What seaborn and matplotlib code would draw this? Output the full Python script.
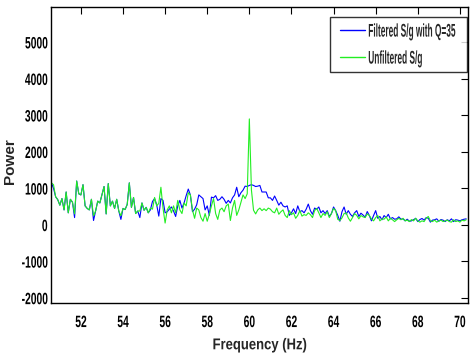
import numpy as np
import pandas as pd
import matplotlib
matplotlib.use('Agg')
import matplotlib.pyplot as plt
import matplotlib.patheffects as pe
from matplotlib.transforms import Affine2D
import seaborn as sns

# frequency grid, 0.1 Hz steps from 50.6 to 70.3 Hz
freq = np.round(np.arange(506, 704) / 10.0, 1)

filtered = [
    # 50.6 - 55.2
    1150, 1000, 770, 690, 540, 720, 410, 900, 330, 700, 620, 200, 1200, 850, 820, 1100,
    520, 450, 410, 700, 120, 380, 650, 600, 820, 1050, 300, 1130, 520, 650, 450, 700,
    380, 150, 450, 420, 560, 1150, 480, 750, 310, 380, 200, 600, 400, 480, 330,
    # 55.3 - 59.9
    410, 640, 720, 550, 240, 720, 670, 330, 360, 430, 490, 380, 230, 520, 670, 460,
    600, 800, 980, 820, 360, 430, 550, 820, 770, 720, 410, 520, 260, 760, 740, 800,
    670, 700, 770, 700, 590, 670, 600, 740, 820, 1030, 770, 880, 950, 1060, 1050,
    # 60.0 - 65.1
    1080, 1100, 1080, 1050, 1060, 1080, 900, 900, 900, 740, 740, 670, 790, 670, 540, 620,
    520, 490, 520, 260, 330, 440, 310, 520, 360, 390, 330, 430, 570, 390, 290, 460,
    430, 490, 330, 390, 310, 390, 230, 310, 490, 390, 260, 100, 360, 490, 290, 390,
    290, 230, 330, 390,
    # 65.2 - 70.3
    230, 320, 270, 210, 365, 255, 110, 255, 390, 180, 230, 140, 255, 200, 290, 165,
    200, 155, 165, 220, 155, 165, 110, 155, 100, 110, 140, 180, 90, 145, 175, 130,
    200, 180, 75, 130, 140, 165, 100, 145, 130, 90, 140, 110, 165, 90, 140, 130,
    110, 140, 155, 165,
]

unfiltered = [
    # 50.6 - 55.2
    1150, 1100, 770, 690, 540, 720, 410, 900, 330, 700, 620, 300, 1200, 850, 820, 1100,
    520, 450, 410, 700, 250, 380, 650, 600, 820, 1050, 300, 1130, 520, 650, 450, 700,
    380, 250, 450, 420, 560, 1150, 480, 750, 310, 380, 380, 600, 400, 480, 330,
    # 55.3 - 59.9
    460, 430, 750, 520, 590, 1030, 460, 50, 410, 520, 330, 520, 330, 670, 410, 310,
    600, 520, 880, 820, 410, 180, 460, 410, 200, 100, 310, 100, 290, 520, 720, 310,
    150, 410, 460, 360, 520, 570, 120, 460, 670, 260, 410, 620, 820, 720, 850,
    # 60.0 - 65.1
    2900, 950, 400, 300, 410, 460, 390, 440, 390, 460, 430, 360, 330, 460, 290, 360,
    410, 260, 200, 390, 280, 330, 180, 260, 390, 240, 280, 260, 330, 280, 200, 390,
    450, 330, 200, 310, 260, 360, 200, 310, 450, 390, 150, 120, 190, 310, 330, 190,
    100, 200, 310, 260,
    # 65.2 - 70.3
    165, 255, 220, 200, 300, 255, 165, 110, 200, 255, 110, 165, 155, 220, 110, 180,
    140, 90, 140, 180, 140, 180, 110, 130, 90, 145, 110, 180, 110, 75, 110, 90,
    180, 230, 110, 90, 130, 75, 110, 130, 90, 110, 130, 90, 75, 140, 90, 110,
    75, 130, 110, 140,
]

labels = ['Filtered S/g with Q=35', 'Unfiltered S/g']
colors = ['#0000ff', '#22ee22']
xticks = [52, 54, 56, 58, 60, 62, 64, 66, 68, 70]
yticks = [-2000, -1000, 0, 1000, 2000, 3000, 4000, 5000]


class Tall(pe.AbstractPathEffect):
    """stretch glyphs vertically around the middle of the cap height,
    the reference uses a squashed (narrow) bold font"""
    def __init__(self, sy):
        super().__init__()
        self.sy = sy

    def draw_path(self, renderer, gc, tpath, affine, rgbFace=None):
        yc = 35.8  # half the cap height in text-path units
        t = Affine2D().translate(0, -yc).scale(1, self.sy).translate(0, yc)
        renderer.draw_path(gc, tpath, t + affine, rgbFace)


sns.set_style('white')
plt.rcParams['font.family'] = ['Liberation Sans', 'DejaVu Sans']
plt.rcParams['font.weight'] = 'bold'
plt.rcParams['axes.unicode_minus'] = False

fig = plt.figure(figsize=(4.7, 3.56), dpi=100)
ax = fig.add_axes([0.1085, 0.149, 0.887, 0.831])

sns.lineplot(x=freq, y=filtered, color=colors[0], linewidth=0.8, label=labels[0], ax=ax)
sns.lineplot(x=freq, y=unfiltered, color=colors[1], linewidth=0.8, label=labels[1], ax=ax)

ax.set_xlim(50.58, 70.38)
ax.set_ylim(-2137, 5960)
ax.set_xticks(xticks)
ax.set_yticks(yticks)
ax.tick_params(direction='in', length=5, width=0.8, top=True, right=True,
               labelsize=7.4, colors='black')
ax.tick_params(axis='x', pad=10)
ax.tick_params(axis='y', pad=2.5)
for lab in ax.get_xticklabels() + ax.get_yticklabels():
    lab.set_fontweight('bold')
    lab.set_path_effects([Tall(1.6)])
for sp in ax.spines.values():
    sp.set_color('black')
    sp.set_linewidth(1.0)

ax.set_xlabel('Frequency (Hz)', fontsize=9.4, fontweight='bold', labelpad=9)
ax.xaxis.label.set_path_effects([Tall(1.2)])
ax.set_ylabel('Power', fontsize=11, fontweight='bold')
ax.yaxis.set_label_coords(-0.081, 0.48)

leg = ax.legend(loc='upper right', bbox_to_anchor=(0.9976, 0.966), fontsize=6,
                frameon=True, fancybox=False, borderaxespad=0.0, handlelength=2.9,
                borderpad=1.2, labelspacing=2.3, handletextpad=0.45)
leg.get_frame().set_edgecolor('black')
leg.get_frame().set_linewidth(1.0)
for t in leg.get_texts():
    t.set_fontweight('bold')
    t.set_path_effects([Tall(2.2)])
for h in leg.legend_handles:
    h.set_linewidth(1.0)

fig.savefig('out.png', dpi=100)
